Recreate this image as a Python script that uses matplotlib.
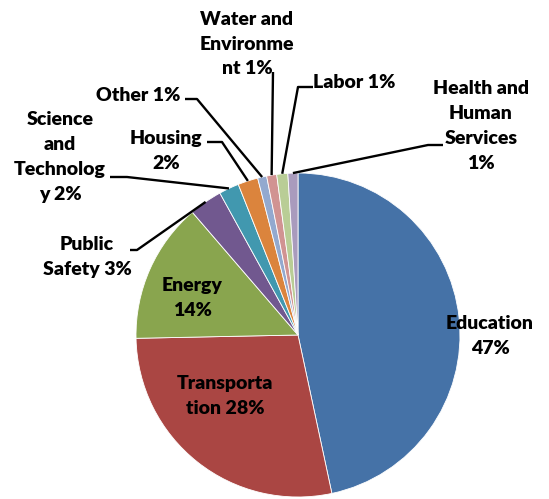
import matplotlib
matplotlib.use("Agg")
import matplotlib.pyplot as plt
import numpy as np

# budget shares (percent), clockwise from 12 o'clock
categories = ["Education", "Transportation", "Energy", "Public Safety",
              "Science and Technology", "Housing", "Other",
              "Water and Environment", "Labor", "Health and Human Services"]
shares = [46.6, 28.0, 14.0, 3.3, 2.0, 2.0, 0.9, 1.0, 1.1, 1.0]
# label wording, wrapped the way the original chart wraps it
label_names = ["Education\n", "Transporta\ntion ", "Energy\n", "Public\nSafety ",
               "Science\nand\nTechnolog\ny ", "Housing\n", "Other ",
               "Water and\nEnvironme\nnt ", "Labor ", "Health and\nHuman\nServices\n"]
colors = ["#4572A7", "#AA4643", "#89A54E", "#71588F", "#4198AF",
          "#DB843D", "#93A9CF", "#D19392", "#B9CD96", "#A99BBD"]

W, H = 549, 499
fig = plt.figure(figsize=(5.49, 4.99), dpi=100)
ax = fig.add_axes([0, 0, 1, 1])

cx, cy, r = 298, H - 335, 162
wedges, _ = ax.pie(shares, colors=colors, startangle=90, counterclock=False,
                   center=(cx, cy), radius=r, frame=True,
                   wedgeprops=dict(edgecolor="white", linewidth=0.6))
ax.set_xlim(0, W)
ax.set_ylim(0, H)
ax.set_aspect("equal")
ax.axis("off")

# label centres in image pixels, and leader stub (label end, elbow) for outside ones
label_pos = [(490, 336), (225, 396), (192, 298), (87, 257), (60, 157),
             (166, 151), (138, 95), (247, 44), (354, 82), (481, 126)]
leaders = {3: [(130, 250), (137, 250)],
           4: [(110, 177), (127, 177)],
           5: [(207, 142), (222, 142)],
           6: [(185, 99), (197, 99)],
           7: [(273, 72), (273, 72)],
           8: [(313, 87), (298, 87)],
           9: [(443, 145), (428, 145)]}

fp = dict(family=["Lato", "DejaVu Sans"], fontweight="heavy", fontsize=14)

for i, w in enumerate(wedges):
    pct = "%d%%" % round(shares[i])
    x, y = label_pos[i]
    ax.text(x, H - y, label_names[i] + pct, ha="center", va="center",
            multialignment="center", linespacing=1.55, color="black", **fp)
    if i in leaders:
        mid = np.deg2rad((w.theta1 + w.theta2) / 2)
        ax_x = cx + r * np.cos(mid)
        ax_y = cy + r * np.sin(mid)
        (sx, sy), (ex, ey) = leaders[i]
        ax.plot([sx, ex, ax_x], [H - sy, H - ey, ax_y], color="black",
                lw=1.7, solid_capstyle="butt", zorder=3)

fig.savefig("out.png", dpi=100)
